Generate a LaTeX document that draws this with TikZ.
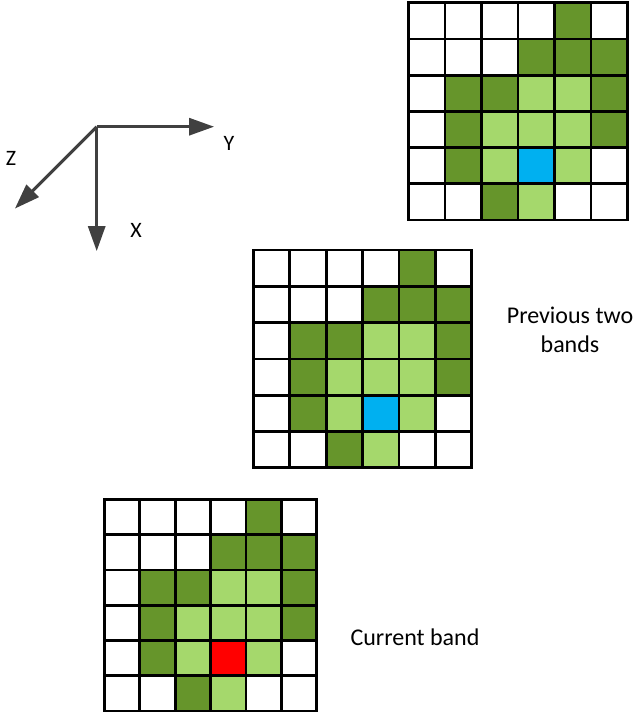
\documentclass[tikz,border=0pt]{standalone}
\usepackage{fontspec}
\setmainfont{Carlito}
\usetikzlibrary{arrows.meta}
\definecolor{dkg}{HTML}{66952B}
\definecolor{ltg}{HTML}{A5D86C}
\definecolor{cblue}{HTML}{00B0F0}
\definecolor{cred}{HTML}{FF0000}
\definecolor{axc}{HTML}{404040}
\newcommand\bandgrid[5]{%
\begin{scope}[shift={(#1,#2)},xscale=#3,yscale=#4]
\foreach \c/\r in {4/0,3/1,4/1,5/1,1/2,2/2,5/2,1/3,5/3,1/4,2/5}
  \fill[dkg] (\c,\r) rectangle ++(1,1);
\foreach \c/\r in {3/2,4/2,2/3,3/3,4/3,2/4,4/4,3/5}
  \fill[ltg] (\c,\r) rectangle ++(1,1);
\fill[#5] (3,4) rectangle ++(1,1);
\foreach \i in {0,...,6} {
  \draw[gridline] (\i,0) -- (\i,6);
  \draw[gridline] (0,\i) -- (6,\i);
}
\end{scope}}
\tikzset{
  gridline/.style={line width=2.8pt,line cap=rect,black},
  axis/.style={line width=3pt,axc,-{Triangle[length=25pt,width=17pt]}},
  axshadow/.style={line width=3pt,black!18,-{Triangle[length=25pt,width=17pt]}},
  lbl/.style={font=\fontsize{22}{26}\selectfont,inner sep=0pt,align=center},
  bigl/.style={font=\fontsize{24}{28.5}\selectfont,inner sep=0pt,align=center}
}
\begin{document}
\begin{tikzpicture}[x=1pt,y=-1pt]
\useasboundingbox (0,0) rectangle (637,712);
\bandgrid{408.5}{2.7}{36.5}{36.2}{cblue}
\bandgrid{253.3}{250}{36.4}{36.3}{cblue}
\bandgrid{104.3}{499.3}{35.4}{35.3}{cred}
\coordinate (o) at (96.7,126.7);
\coordinate (ay) at (214,126.7);
\coordinate (ax) at (96.7,251);
\coordinate (az) at (15,208.5);
\begin{scope}[shift={(3,3)}]
\draw[axshadow] (o) -- (ay);
\draw[axshadow] (o) -- (ax);
\draw[axshadow] (o) -- (az);
\end{scope}
\draw[axis] (o) -- (ay);
\draw[axis] (o) -- (ax);
\draw[axis] (o) -- (az);
\node[lbl] (ly) at (229,143) {Y};
\node[lbl] (lz) at (11,158) {Z};
\node[lbl] (lx) at (136,230) {X};
\node[bigl] (prev) at (570,330) {Previous two\\bands};
\node[bigl] (cur) at (415,637) {Current band};
\end{tikzpicture}
\end{document}
